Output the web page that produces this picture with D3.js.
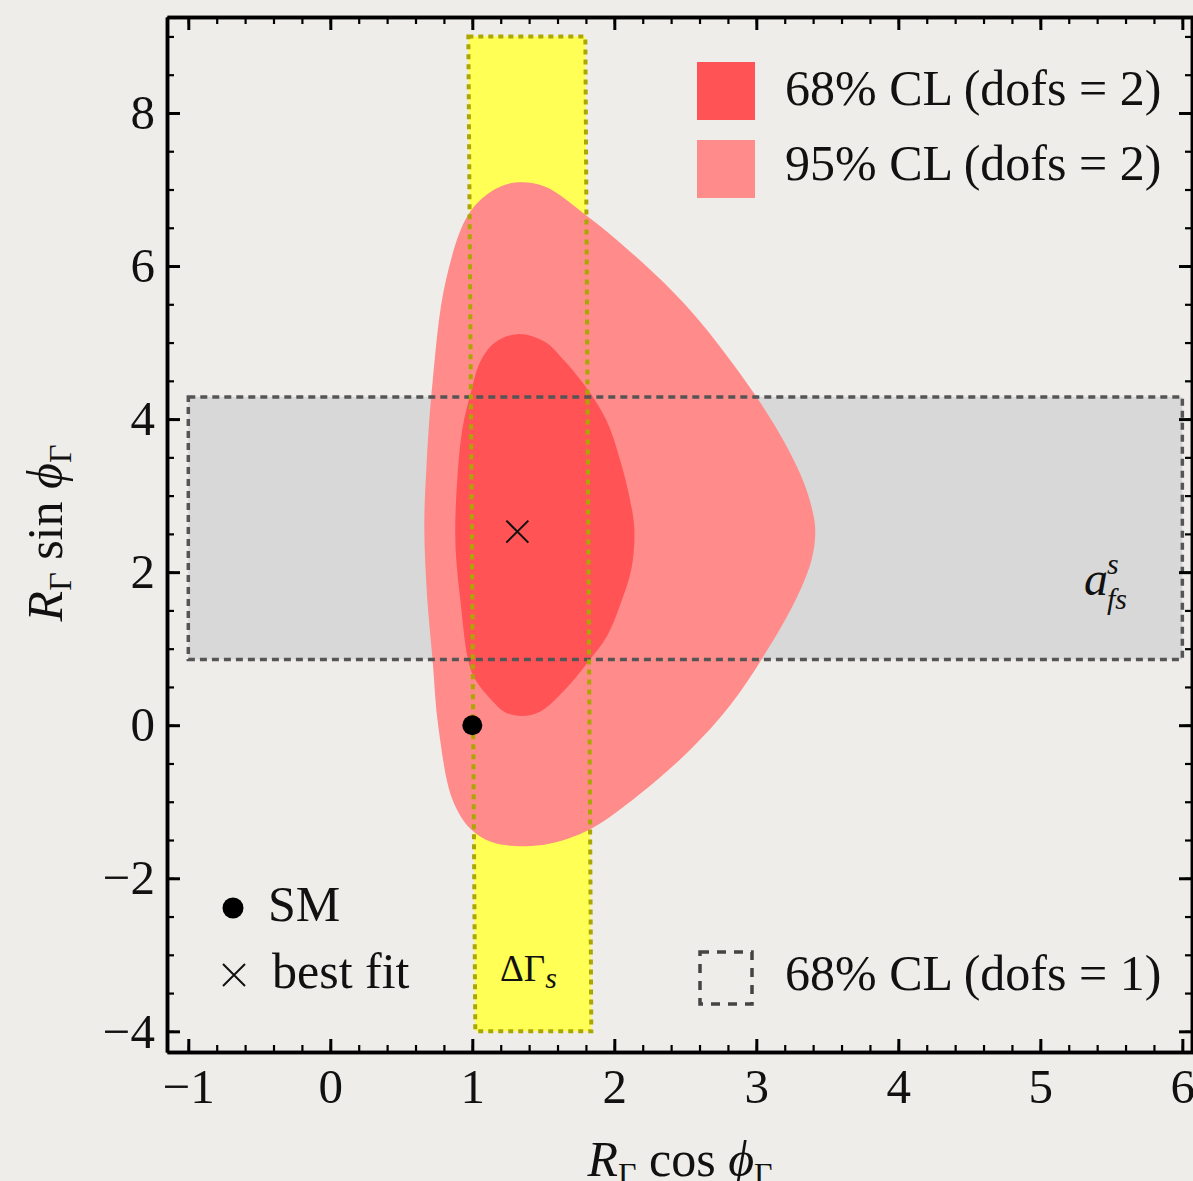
<!DOCTYPE html>
<html>
<head>
<meta charset="utf-8">
<script src="https://cdn.jsdelivr.net/npm/d3@7"></script>
<style>
  html, body { margin: 0; padding: 0; background: #eeede9; }
  svg { display: block; }
  text { font-family: "Liberation Serif", "Times New Roman", Times, serif; fill: #111; }
</style>
</head>
<body>
<svg id="chart" width="1193" height="1181"></svg>
<script>
// Allowed regions in the (R cos phi, R sin phi) plane
const contour95 = [
  [1.30, 7.09], [1.51, 7.04], [1.81, 6.65], [2.08, 6.24], [2.35, 5.78], [2.61, 5.26],
  [2.82, 4.76], [3.03, 4.21], [3.20, 3.69], [3.33, 3.19], [3.39, 2.84], [3.415, 2.56],
  [3.39, 2.17], [3.28, 1.65], [3.06, 0.93], [2.82, 0.27], [2.54, -0.31], [2.18, -0.90],
  [1.83, -1.36], [1.54, -1.55], [1.34, -1.58], [1.14, -1.53], [0.99, -1.36], [0.86, -0.97],
  [0.76, -0.01], [0.72, 0.86], [0.683, 1.65], [0.662, 2.56], [0.676, 3.34], [0.72, 4.48],
  [0.81, 5.78], [0.965, 6.65], [1.13, 6.97]
];
const contour68 = [
  [1.32, 5.11], [1.51, 5.01], [1.64, 4.78], [1.775, 4.48], [1.94, 4.00], [2.04, 3.47],
  [2.11, 2.95], [2.141, 2.56], [2.12, 2.04], [2.05, 1.62], [1.95, 1.17], [1.82, 0.84],
  [1.655, 0.47], [1.48, 0.18], [1.35, 0.12], [1.23, 0.17], [1.13, 0.34], [1.02, 0.60],
  [0.97, 0.86], [0.915, 1.65], [0.887, 2.17], [0.880, 2.56], [0.894, 3.21], [0.93, 3.87],
  [0.986, 4.32], [1.056, 4.75], [1.16, 5.00]
];
// Delta Gamma_s band (corners) and a_fs^s band (x range, y range)
const deltaGammaBand = [[0.972, 9.0], [1.796, 9.0], [1.838, -4.0], [1.021, -4.0]];
const afsBandX = [-1.0, 6.0];
const afsBandY = [0.86, 4.29];
const smPoint = [1.0, 0.0];
const bestFit = [1.317, 2.53];

const xMajor = [-1, 0, 1, 2, 3, 4, 5, 6];
const yMajor = [-4, -2, 0, 2, 4, 6, 8];
const xMinor = d3.range(-1, 6.01, 0.2).map(v => +v.toFixed(2));
const yMinor = d3.range(-4, 9.01, 0.5);

const legendEntries = ["68% CL (dofs = 2)", "95% CL (dofs = 2)"];
const legendBand = "68% CL (dofs = 1)";

const colRed = "#ff5356";
const colPink = "#ff8b8a";
const colYellow = "#ffff55";
const colGray = "#d8d8d8";

const svg = d3.select("#chart");
const x = d3.scaleLinear().domain([-1.15, 6.075]).range([167, 1193]);
const y = d3.scaleLinear().domain([-4.27, 9.254]).range([1052, 17]);

const plot = svg.append("g");

// a_fs band
plot.append("rect")
  .attr("x", x(afsBandX[0])).attr("y", y(afsBandY[1]))
  .attr("width", x(afsBandX[1]) - x(afsBandX[0]))
  .attr("height", y(afsBandY[0]) - y(afsBandY[1]))
  .attr("fill", colGray);

// Delta Gamma band
const poly = d3.line().x(d => x(d[0])).y(d => y(d[1]));
plot.append("path")
  .attr("d", poly(deltaGammaBand) + "Z")
  .attr("fill", colYellow);

// CL contours
const smooth = d3.line().x(d => x(d[0])).y(d => y(d[1])).curve(d3.curveCatmullRomClosed.alpha(0.5));
plot.append("path").attr("d", smooth(contour95)).attr("fill", colPink);
plot.append("path").attr("d", smooth(contour68)).attr("fill", colRed);

// Dashed band outlines
plot.append("rect")
  .attr("x", x(afsBandX[0])).attr("y", y(afsBandY[1]))
  .attr("width", x(afsBandX[1]) - x(afsBandX[0]))
  .attr("height", y(afsBandY[0]) - y(afsBandY[1]))
  .attr("fill", "none").attr("stroke", "#555").attr("stroke-width", 3.5)
  .attr("stroke-dasharray", "7,5");
plot.append("path")
  .attr("d", poly(deltaGammaBand) + "Z")
  .attr("fill", "none").attr("stroke", "#aca700").attr("stroke-width", 4)
  .attr("stroke-dasharray", "5,5");

// Best fit and SM markers
function cross(g, cx, cy, r) {
  g.append("path")
    .attr("d", `M${cx - r},${cy - r}L${cx + r},${cy + r}M${cx - r},${cy + r}L${cx + r},${cy - r}`)
    .attr("stroke", "#111").attr("stroke-width", 2).attr("fill", "none");
}
cross(plot, x(bestFit[0]), y(bestFit[1]), 11);
plot.append("circle").attr("cx", x(smPoint[0])).attr("cy", y(smPoint[1])).attr("r", 10).attr("fill", "#000");

// Band labels
const dg = plot.append("text").attr("x", 500).attr("y", 981).attr("font-size", 37);
dg.append("tspan").text("ΔΓ");
dg.append("tspan").attr("font-style", "italic").attr("font-size", 30).attr("dy", 7).text("s");

const af = plot.append("g").attr("font-style", "italic");
af.append("text").attr("x", 1084).attr("y", 595).attr("font-size", 48).text("a");
af.append("text").attr("x", 1107).attr("y", 574).attr("font-size", 30).text("s");
af.append("text").attr("x", 1107).attr("y", 609).attr("font-size", 30).text("fs");

// Axes frame with inward ticks
const fs = 50;
function styleAxis(g, w) {
  g.select(".domain").attr("stroke", "#000").attr("stroke-width", 3.5);
  g.selectAll(".tick line").attr("stroke", "#000").attr("stroke-width", w);
  g.selectAll(".tick text").attr("font-size", 49).attr("fill", "#111")
    .attr("font-family", '"Liberation Serif", "Times New Roman", serif');
}
const fmt = d => (d < 0 ? "\u2212" + Math.abs(d) : String(d));

svg.append("g").attr("transform", `translate(0,${y.range()[0]})`)
  .call(d3.axisBottom(x).tickValues(xMinor).tickSize(-7).tickSizeOuter(0).tickFormat(""))
  .call(g => styleAxis(g, 2.2));
svg.append("g").attr("transform", `translate(0,${y.range()[0]})`)
  .call(d3.axisBottom(x).tickValues(xMajor).tickSize(-13).tickSizeOuter(0).tickPadding(16).tickFormat(fmt))
  .call(g => styleAxis(g, 3));
svg.append("g").attr("transform", `translate(0,${y.range()[1]})`)
  .call(d3.axisTop(x).tickValues(xMinor).tickSize(-7).tickSizeOuter(0).tickFormat(""))
  .call(g => styleAxis(g, 2.2));
svg.append("g").attr("transform", `translate(0,${y.range()[1]})`)
  .call(d3.axisTop(x).tickValues(xMajor).tickSize(-13).tickSizeOuter(0).tickFormat(""))
  .call(g => styleAxis(g, 3));

svg.append("g").attr("transform", `translate(${x.range()[0]},0)`)
  .call(d3.axisLeft(y).tickValues(yMinor).tickSize(-7).tickSizeOuter(0).tickFormat(""))
  .call(g => styleAxis(g, 2.2));
svg.append("g").attr("transform", `translate(${x.range()[0]},0)`)
  .call(d3.axisLeft(y).tickValues(yMajor).tickSize(-13).tickSizeOuter(0).tickPadding(12).tickFormat(fmt))
  .call(g => styleAxis(g, 3));
svg.append("g").attr("transform", `translate(${x.range()[1] - 1},0)`)
  .call(d3.axisRight(y).tickValues(yMinor).tickSize(-7).tickSizeOuter(0).tickFormat(""))
  .call(g => styleAxis(g, 2.2));
svg.append("g").attr("transform", `translate(${x.range()[1] - 1},0)`)
  .call(d3.axisRight(y).tickValues(yMajor).tickSize(-13).tickSizeOuter(0).tickFormat(""))
  .call(g => styleAxis(g, 3));

// Axis titles
function axisTitle(transform, trig) {
  const t = svg.append("text").attr("transform", transform)
    .attr("text-anchor", "middle").attr("font-size", fs);
  t.append("tspan").attr("font-style", "italic").text("R");
  t.append("tspan").attr("font-size", 32).attr("dy", 9).text("Γ");
  t.append("tspan").attr("dy", -9).text(` ${trig} `);
  t.append("tspan").attr("font-style", "italic").text("ϕ");
  t.append("tspan").attr("font-size", 32).attr("dy", 9).text("Γ");
}
axisTitle("translate(62,533) rotate(-90)", "sin");
axisTitle("translate(680,1176)", "cos");

// Legend: contour swatches
const legendColors = [colRed, colPink];
const leg = svg.append("g");
legendEntries.forEach((label, i) => {
  leg.append("rect").attr("x", 697).attr("y", 62 + i * 78).attr("width", 58).attr("height", 58)
    .attr("fill", legendColors[i]);
  leg.append("text").attr("x", 785).attr("y", 105 + i * 75).attr("font-size", fs).text(label);
});
leg.append("rect").attr("x", 700).attr("y", 952).attr("width", 52).attr("height", 52)
  .attr("fill", "none").attr("stroke", "#444").attr("stroke-width", 3.5).attr("stroke-dasharray", "9,8");
leg.append("text").attr("x", 785).attr("y", 990).attr("font-size", fs).text(legendBand);

// Legend: markers
leg.append("circle").attr("cx", 233).attr("cy", 908).attr("r", 10.5).attr("fill", "#000");
leg.append("text").attr("x", 268).attr("y", 921).attr("font-size", fs).text("SM");
cross(leg, 234, 975, 11);
leg.append("text").attr("x", 272).attr("y", 988).attr("font-size", fs).text("best fit");
</script>
</body>
</html>
